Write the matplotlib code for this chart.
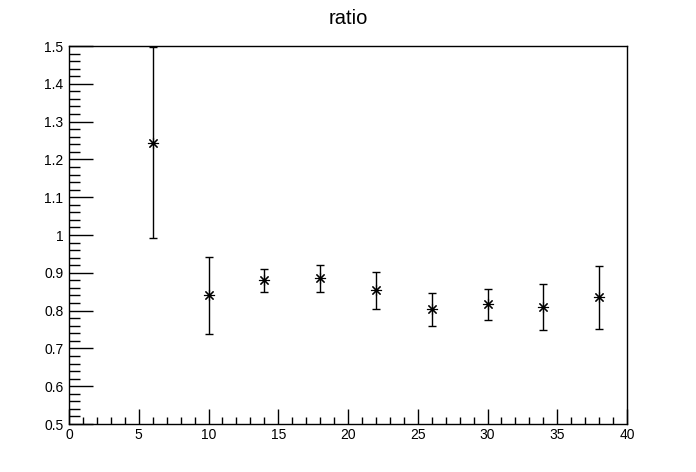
import matplotlib
matplotlib.use("Agg")
import matplotlib.pyplot as plt
from matplotlib.ticker import MultipleLocator

plt.rcParams['font.family'] = ['Liberation Sans', 'DejaVu Sans']

# data
x_vals = [6, 10, 14, 18, 22, 26, 30, 34, 38]
ratio = [1.244, 0.840, 0.880, 0.885, 0.854, 0.803, 0.817, 0.809, 0.835]
ratio_err = [0.253, 0.102, 0.031, 0.036, 0.049, 0.044, 0.041, 0.061, 0.083]

fig = plt.figure(figsize=(6.96, 4.72), dpi=100)
ax = fig.add_axes([69 / 696, 1 - 424 / 472, 558 / 696, 378 / 472])

ax.errorbar(x_vals, ratio, yerr=ratio_err, fmt="none", ecolor="black",
            elinewidth=1.0, capsize=3, capthick=1.0)
ax.plot(x_vals, ratio, linestyle="none", marker=(8, 2, 0), markersize=8,
        markeredgewidth=0.8, color="black")

ax.set_xlim(0, 40)
ax.set_ylim(0.5, 1.5)
ax.xaxis.set_major_locator(MultipleLocator(5))
ax.xaxis.set_minor_locator(MultipleLocator(1))
ax.yaxis.set_major_locator(MultipleLocator(0.1))
ax.yaxis.set_minor_locator(MultipleLocator(0.02))
ax.yaxis.set_major_formatter(plt.FuncFormatter(lambda v, p: f"{v:g}"))

ax.tick_params(which="both", direction="in", top=False, right=False,
               labelsize=10, width=1)
ax.tick_params(axis="x", which="major", length=11, pad=3)
ax.tick_params(axis="x", which="minor", length=5)
ax.tick_params(axis="y", which="major", length=17, pad=4)
ax.tick_params(axis="y", which="minor", length=8)
for s in ax.spines.values():
    s.set_linewidth(1)

fig.text(0.5, 1 - 18 / 472, "ratio", ha="center", va="center", fontsize=14.5)

fig.savefig("out.png", dpi=100)
